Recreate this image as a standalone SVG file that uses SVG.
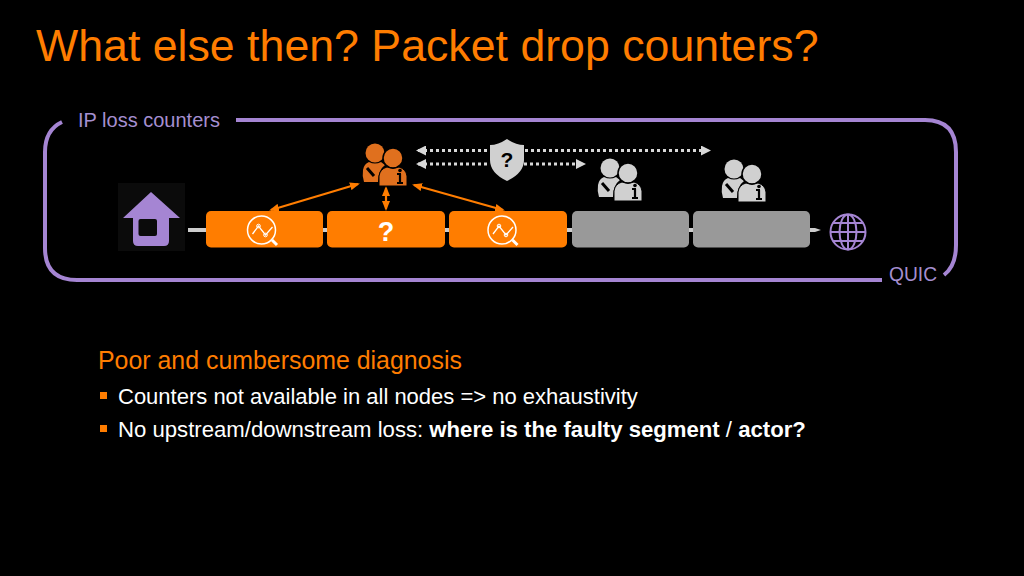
<svg xmlns="http://www.w3.org/2000/svg" width="1024" height="576" viewBox="0 0 1024 576">
<style>
text{font-family:"Liberation Sans",Arial,sans-serif}
.p{fill:#a58fd0;font-size:20px}
.frame{fill:none;stroke:#a585d3;stroke-width:4}
.or{fill:#ff7d00}.gr{fill:#999}
.hop{fill:none;stroke:#ff7d00;stroke-width:2.2;marker-start:url(#oh);marker-end:url(#oh)}
.dot{fill:none;stroke:#d8d8d8;stroke-width:3;stroke-dasharray:3 3}
.g{fill:none;stroke:#a585d3;stroke-width:2}
.body{fill:#ff7d00;font-size:24.9px}
.li{fill:#fff;font-size:22px}
</style>
<defs>
<marker id="oh" markerWidth="10" markerHeight="8" refX="8" refY="4" orient="auto-start-reverse" markerUnits="userSpaceOnUse"><path d="M0 0L10 4L0 8Z" fill="#ff7d00"/></marker>
<marker id="wh" markerWidth="10" markerHeight="10" refX="8" refY="5" orient="auto-start-reverse" markerUnits="userSpaceOnUse"><path d="M0 0L10 5L0 10Z" fill="#d8d8d8"/></marker>
<symbol id="people" overflow="visible">
<circle cx="375" cy="153" r="9.500"/>
<path d="M363 170Q364 164 369 162Q375 165 381 162L385 165Q378 170 378 182H364Q362 176 363 170Z"/>
<path d="M367 168L374 176" stroke="#000" stroke-width="3"/>
<circle cx="393" cy="158" r="10" stroke="#000" stroke-width="1.500"/>
<path d="M379 186V176Q380 169 387 167Q393 170 399 167Q406 169 407 176V186Z" stroke="#000" stroke-width="1"/>
<path d="M397 174h4M400 174v9M397 183h6" stroke="#000" stroke-width="2.200" fill="none"/>
<circle cx="400" cy="170.500" r="1.800" fill="#000"/>
</symbol>
<symbol id="mag" overflow="visible">
<circle r="14" fill="none" stroke="#fff" stroke-width="1.500"/>
<path d="M-9 4L-3 -4L4 5L11 -3" fill="none" stroke="#fff" stroke-width="1.300"/>
<circle cx="-3" cy="-4" r="1.800" fill="none" stroke="#fff"/>
<circle cx="4" cy="5" r="1.800" fill="none" stroke="#fff"/>
<path d="M10.500 10L15.500 15" stroke="#fff" stroke-width="3"/>
</symbol>
</defs>
<rect width="1024" height="576" fill="#000"/>
<text x="36" y="61" font-size="44.700" fill="#ff7d00">What else then? Packet drop counters?</text>

<g id="frame">
<path class="frame" d="M236 120H925Q956 120 956 152V245Q956 266 944 275"/>
<path class="frame" d="M882 280H77Q45 280 45 248V152Q45 130 62 122"/>
<text class="p" x="78" y="127">IP loss counters</text>
<text class="p" x="889" y="281" textLength="48" lengthAdjust="spacingAndGlyphs">QUIC</text>
</g>

<g id="connectors">
<path d="M188 228H815L821 230L815 232H188Z" fill="#ccc"/>
<path class="hop" d="M271 210L358 184"/>
<path class="hop" d="M386 188V209"/>
<path class="hop" d="M414 185L503 210"/>
<path class="dot" style="marker-start:url(#wh)" d="M418 150.500H490"/>
<path class="dot" style="marker-end:url(#wh)" d="M525 150.500H709"/>
<path class="dot" style="marker-start:url(#wh)" d="M418 164H490"/>
<path class="dot" style="marker-end:url(#wh)" d="M524 164H584"/>
</g>

<g id="home">
<rect x="118" y="183" width="67" height="68" fill="#0b0b0b"/>
<path d="M151 192L180 218H169V241Q169 246 164 246H138Q133 246 133 241V218H123Z" fill="#a585d3"/>
<rect x="138.500" y="219" width="18.500" height="17" rx="2" fill="#0b0b0b"/>
</g>

<g id="node1"><rect class="or" x="206" y="211" width="117" height="36.500" rx="5"/><use href="#mag" x="261.500" y="230"/></g>
<g id="node2"><rect class="or" x="327" y="211" width="118" height="36.500" rx="5"/><text x="386" y="241" font-size="27" font-weight="bold" fill="#fff" text-anchor="middle">?</text></g>
<g id="node3"><rect class="or" x="449" y="211" width="118" height="36.500" rx="5"/><use href="#mag" x="502" y="230"/></g>
<g id="node4"><rect class="gr" x="572" y="211" width="117" height="36.500" rx="5"/></g>
<g id="node5"><rect class="gr" x="693" y="211" width="117" height="36.500" rx="5"/></g>

<g id="actor1"><use href="#people" fill="#e0701e"/></g>
<g id="actor2"><use href="#people" x="235" y="15" fill="#d0d0d0"/></g>
<g id="actor3"><use href="#people" x="359" y="16" fill="#d0d0d0"/></g>

<g id="shield">
<path d="M507 139Q516 145 524 145V160Q524 173 507 181Q490 173 490 160V145Q498 145 507 139Z" fill="#d0d0d0"/>
<text x="507" y="167" font-size="21" font-weight="bold" fill="#000" text-anchor="middle">?</text>
</g>

<g id="globe">
<circle class="g" cx="848" cy="232" r="17.500"/>
<ellipse class="g" cx="848" cy="232" rx="8.500" ry="17.500"/>
<path class="g" d="M848 214.500V249.500M830.500 232H865.500M833 223H863M833 241H863"/>
</g>

<text class="body" x="98" y="369">Poor and cumbersome diagnosis</text>
<rect class="or" x="100" y="392" width="7" height="7"/>
<text class="li" x="118" y="404">Counters not available in all nodes =&gt; no exhaustivity</text>
<rect class="or" x="100" y="425" width="7" height="7"/>
<text class="li" x="118" y="437" style="font-size:22.150px">No upstream/downstream loss: <tspan font-weight="bold">where is the faulty segment</tspan> / <tspan font-weight="bold">actor?</tspan></text>
</svg>
